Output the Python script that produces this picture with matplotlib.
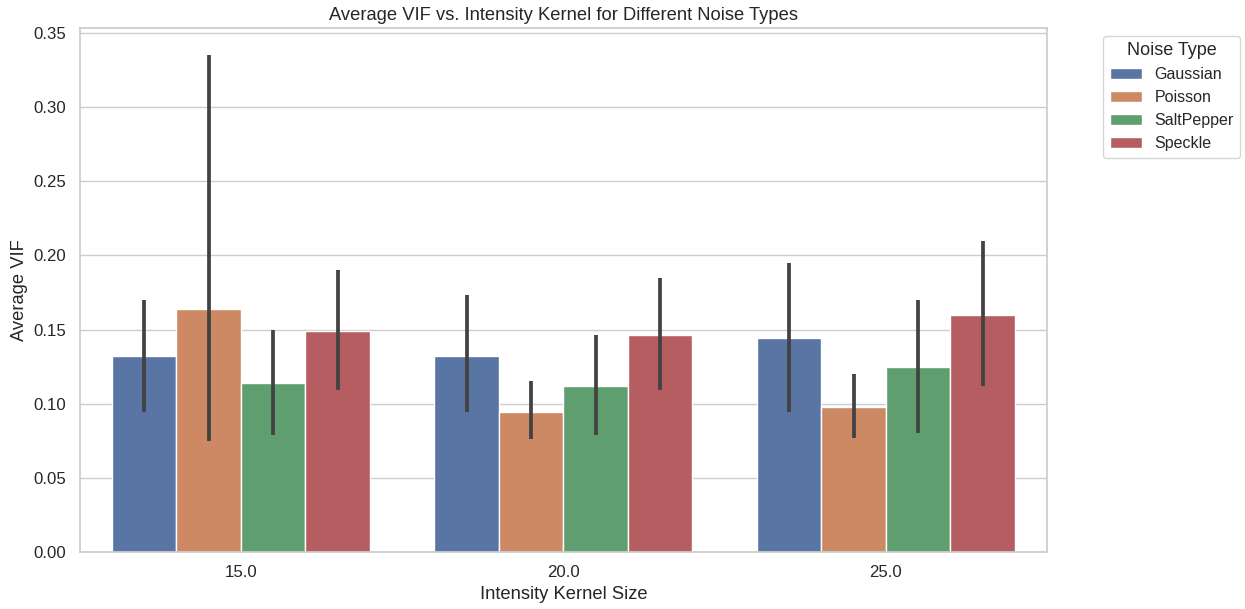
import numpy as np
import matplotlib
matplotlib.use("Agg")
import matplotlib.pyplot as plt
import seaborn as sns

kernel_sizes = ["15.0", "20.0", "25.0"]
noise_types = ["Gaussian", "Poisson", "SaltPepper", "Speckle"]

# mean VIF per noise type, one value per kernel size
vif_mean = {
    "Gaussian":   [0.132, 0.132, 0.144],
    "Poisson":    [0.164, 0.094, 0.098],
    "SaltPepper": [0.114, 0.112, 0.125],
    "Speckle":    [0.149, 0.146, 0.160],
}
# confidence interval bounds
ci_low = {
    "Gaussian":   [0.094, 0.094, 0.094],
    "Poisson":    [0.075, 0.076, 0.077],
    "SaltPepper": [0.079, 0.079, 0.080],
    "Speckle":    [0.109, 0.109, 0.112],
}
ci_high = {
    "Gaussian":   [0.170, 0.173, 0.195],
    "Poisson":    [0.335, 0.115, 0.120],
    "SaltPepper": [0.150, 0.146, 0.170],
    "Speckle":    [0.190, 0.185, 0.210],
}

sns.set_theme(style="whitegrid", font_scale=1.1)
plt.rcParams["font.family"] = ["Liberation Sans", "DejaVu Sans"]
colors = sns.color_palette("deep", desat=0.75)

fig, ax = plt.subplots(figsize=(12.45, 6.09), dpi=100)
fig.subplots_adjust(left=0.064, right=0.841, top=0.954, bottom=0.094)

x = np.arange(len(kernel_sizes))
width = 0.8 / len(noise_types)
for i, nt in enumerate(noise_types):
    pos = x - 0.4 + width * (i + 0.5)
    ax.bar(pos, vif_mean[nt], width=width, color=colors[i], label=nt,
           edgecolor="white", linewidth=1)
    ax.vlines(pos, ci_low[nt], ci_high[nt], color=".26", linewidth=2.7, zorder=3)

ax.set_xticks(x)
ax.set_xticklabels(kernel_sizes)
ax.xaxis.grid(False)
ax.set_xlim(-0.5, len(kernel_sizes) - 0.5)
ax.set_ylim(0, 0.3535)
ax.set_yticks(np.arange(0, 0.36, 0.05))
ax.set_xlabel("Intensity Kernel Size")
ax.set_ylabel("Average VIF")
ax.set_title("Average VIF vs. Intensity Kernel for Different Noise Types")
ax.legend(title="Noise Type", bbox_to_anchor=(1.05, 1), loc="upper left",
          fontsize=11.5, title_fontsize=13)

fig.savefig("out.png", dpi=100)
